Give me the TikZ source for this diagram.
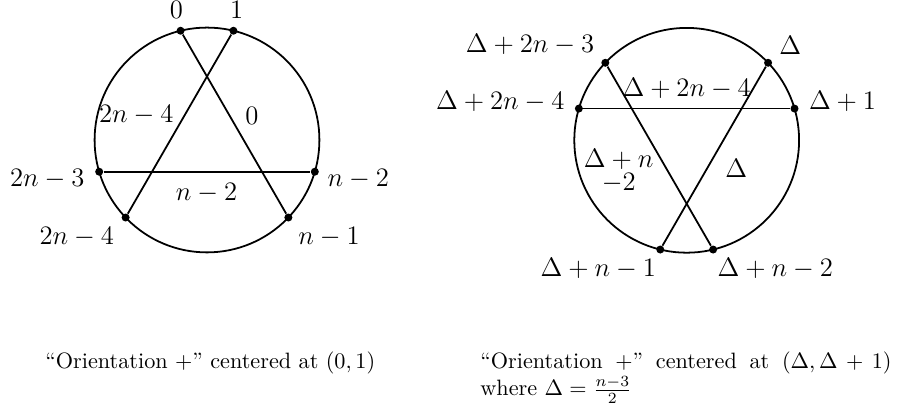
\documentclass[tikz,border=0pt]{standalone}
\usetikzlibrary{calc}
\begin{document}
\begin{tikzpicture}[x=0.45pt,y=0.45pt,
  dot/.style={circle,fill=black,inner sep=0pt,minimum size=3.6pt},
  chord/.style={line width=0.8pt},
  lab/.style={font=\fontsize{11.5}{10}\selectfont, inner sep=0pt, align=center},
  captext/.style={inner sep=0pt, anchor=base west, font=\fontsize{10}{12}\selectfont}]
\useasboundingbox (0,0) rectangle (899,409);
% ---------- left figure ----------
\coordinate (cL) at (207,269);
\draw[chord] (cL) circle[radius=50.58pt];
\node[dot] (a0)  at ($(cL)+(103.6:50.58pt)$) {};
\node[dot] (a1)  at ($(cL)+(76.4:50.58pt)$) {};
\node[dot] (a2n3) at ($(cL)+(196.4:50.58pt)$) {};
\node[dot] (an2) at ($(cL)+(343.6:50.58pt)$) {};
\node[dot] (a2n4) at ($(cL)+(223.6:50.58pt)$) {};
\node[dot] (an1) at ($(cL)+(316.4:50.58pt)$) {};
\draw[chord] (a0) -- (an1);
\draw[chord] (a1) -- (a2n4);
\draw[chord] (a2n3) -- (an2);
\node[lab] (t0) at (176.3,399.5) {$0$};
\node[lab] (t1) at (236.7,399.5) {$1$};
\node[lab] (t2n3) at (47.2,230) {$2n-3$};
\node[lab] (tn2) at (358.3,230) {$n-2$};
\node[lab] (t2n4) at (76.7,172.3) {$2n-4$};
\node[lab] (tn1) at (329,172.3) {$n-1$};
\node[lab] (i2n4) at (136.3,294) {$2n-4$};
\node[lab] (i0) at (252,293.3) {$0$};
\node[lab] (in2) at (206.5,215.7) {$n-2$};
% ---------- right figure ----------
\coordinate (cR) at (686.7,268.7);
\draw[chord] (cR) circle[radius=50.58pt];
\node[dot] (bn2)  at ($(cR)+(283.6:50.58pt)$) {};
\node[dot] (bn1)  at ($(cR)+(256.4:50.58pt)$) {};
\node[dot] (bd1)  at ($(cR)+(16.4:50.58pt)$) {};
\node[dot] (b2n4) at ($(cR)+(163.6:50.58pt)$) {};
\node[dot] (bd)   at ($(cR)+(43.6:50.58pt)$) {};
\node[dot] (b2n3) at ($(cR)+(136.4:50.58pt)$) {};
\draw[chord] (b2n3) -- (bn2);
\draw[chord] (bd) -- (bn1);
\draw[chord] (b2n4) -- (bd1);
\node[lab] (s2n3) at (530,364.8) {$\Delta+2n-3$};
\node[lab] (sd) at (790.2,364) {$\Delta$};
\node[lab] (s2n4) at (500.3,307.7) {$\Delta+2n-4$};
\node[lab] (sd1) at (842.5,308) {$\Delta+1$};
\node[lab] (j2n4) at (686.7,320.7) {$\Delta+2n-4$};
\node[lab] (jn2) at (618.7,238) {$\Delta+n$\\$-2$};
\node[lab] (jd) at (736.3,241) {$\Delta$};
\node[lab] (sn1) at (598.3,140.3) {$\Delta+n-1$};
\node[lab] (sn2) at (775.3,140.3) {$\Delta+n-2$};
% ---------- captions ----------
\node[captext] (capL) at (45,40) {\textquotedblleft Orientation +\textquotedblright{} centered at $(0,1)$};
\node[captext] (capR) at (480,40) {\parbox[t]{185pt}{\textquotedblleft Orientation +\textquotedblright{} centered at $(\Delta,\Delta+1)$ where $\Delta=\frac{n-3}{2}$}};
\end{tikzpicture}
\end{document}
